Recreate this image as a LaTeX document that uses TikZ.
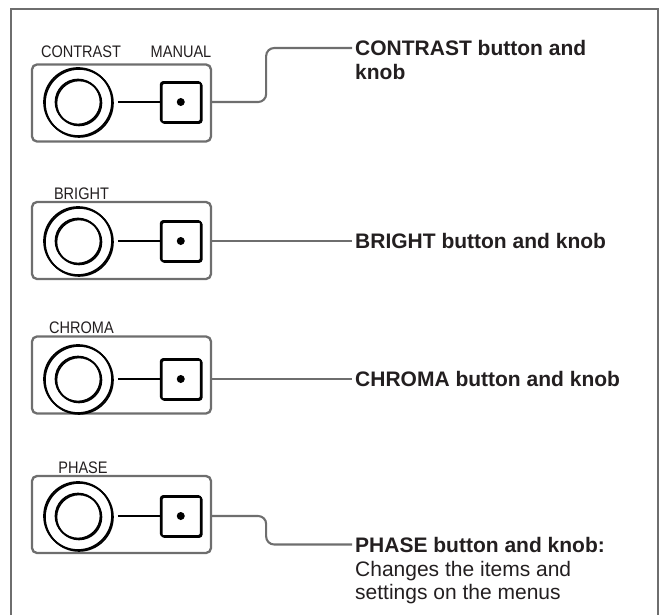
\documentclass[tikz,border=0pt]{standalone}
\usepackage{fontspec}
\setmainfont{Liberation Sans}
\newfontfamily\narrowfont[FakeStretch=0.87]{Liberation Sans}
\usepackage{tikz}
\usetikzlibrary{positioning, calc}
\definecolor{rimgray}{HTML}{6E6E6E}
\definecolor{inkblack}{HTML}{231F20}
\tikzset{
  panelbox/.style={draw=rimgray, line width=2.3pt, rounded corners=5pt,
    minimum width=179pt, minimum height=77pt, inner sep=0pt},
  shadowed/.style={preaction={draw, line width=1.6pt,
    transform canvas={xshift=1pt, yshift=-1pt}}}
}
\tikzset{
  knobring/.style={draw, circle, line width=1.7pt, minimum size=68pt, inner sep=0pt, shadowed},
  pushbtn/.style={draw, line width=1.8pt, rounded corners=2.5pt, minimum size=40pt, inner sep=0pt, shadowed},
  leader/.style={draw=rimgray, line width=2.1pt, rounded corners=8pt}
}
\tikzset{
  knoblabel/.style={font=\narrowfont\fontsize{16.7}{18}\selectfont, text=inkblack, inner sep=0pt, anchor=base},
  calltitle/.style={font=\bfseries\fontsize{21}{23.5}\selectfont, text=inkblack,
    inner xsep=3pt, inner ysep=0pt, text height=15pt, text depth=0pt, anchor=west},
  callbody/.style={font=\fontsize{21}{23.5}\selectfont, text=inkblack,
    inner xsep=3pt, inner ysep=0pt, align=left}
}

\begin{document}
\begin{tikzpicture}[x=1pt, y=-1pt]
  \useasboundingbox (0,0) rectangle (660,615);
  % outer frame, open at the bottom
  \draw[rimgray, line width=1.9pt] (11,615) -- (11,9) -- (658,9) -- (658,615);

  % contrast
  \node[panelbox] (pcon) at (121.5,103) {};
  \node[knobring] (kcon) at (78,102) {};
  \draw[line width=1.7pt, shadowed] (kcon.center) circle (22.5);
  \node[pushbtn, right=47pt of kcon] (bcon) {};
  \fill (bcon.center) circle (4);
  \draw[line width=1.5pt, shorten <=5pt] (kcon) -- (bcon);
  \node[knoblabel] (lcon) at (81,58) {CONTRAST};
  \node[knoblabel] (lman) at (181,58) {MANUAL};
  \node[calltitle] (tcon) at (352,48) {CONTRAST button and};
  \node[calltitle, below=8.5pt of tcon.south west, anchor=north west] (tcon2) {knob};
  \draw[leader] (pcon.east |- bcon) -- ++(54,0) |- (tcon.west);

  % bright
  \node[panelbox] (pbri) at (121.5,240.5) {};
  \node[knobring] (kbri) at (78,241) {};
  \draw[line width=1.7pt, shadowed] (kbri.center) circle (22.5);
  \node[pushbtn, right=47pt of kbri] (bbri) {};
  \fill (bbri.center) circle (4);
  \draw[line width=1.5pt, shorten <=5pt] (kbri) -- (bbri);
  \node[knoblabel] (lbri) at (81.5,199) {BRIGHT};
  \node[calltitle] (tbri) at (352,241) {BRIGHT button and knob};
  \draw[leader] (pbri.east |- bbri) -- (tbri.west);

  % chroma
  \node[panelbox] (pchr) at (121.5,375) {};
  \node[knobring] (kchr) at (78,379) {};
  \draw[line width=1.7pt, shadowed] (kchr.center) circle (22.5);
  \node[pushbtn, right=47pt of kchr] (bchr) {};
  \fill (bchr.center) circle (4);
  \draw[line width=1.5pt, shorten <=5pt] (kchr) -- (bchr);
  \node[knoblabel] (lchr) at (81.5,333) {CHROMA};
  \node[calltitle] (tchr) at (352,379) {CHROMA button and knob};
  \draw[leader] (pchr.east |- bchr) -- (tchr.west);

  % phase
  \node[panelbox] (ppha) at (121.5,514.5) {};
  \node[knobring] (kpha) at (78,516) {};
  \draw[line width=1.7pt, shadowed] (kpha.center) circle (22.5);
  \node[pushbtn, right=47pt of kpha] (bpha) {};
  \fill (bpha.center) circle (4);
  \draw[line width=1.5pt, shorten <=5pt] (kpha) -- (bpha);
  \node[knoblabel] (lpha) at (83,473) {PHASE};
  \node[calltitle] (tpha) at (352,544.5) {PHASE button and knob:};
  \node[callbody, below=8.5pt of tpha.south west, anchor=north west] (tpha2)
    {Changes the items and\\settings on the menus};
  \draw[leader] (ppha.east |- bpha) -- ++(54,0) |- (tpha.west);
\end{tikzpicture}
\end{document}
